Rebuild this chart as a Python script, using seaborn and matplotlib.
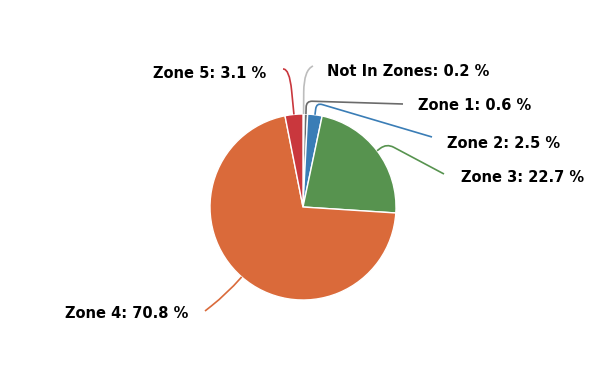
import numpy as np
import matplotlib
matplotlib.use("Agg")
import matplotlib.pyplot as plt
from matplotlib.path import Path
from matplotlib.patches import PathPatch
import seaborn as sns

categories = ["Not In Zones", "Zone 1", "Zone 2", "Zone 3", "Zone 4", "Zone 5"]
values = [0.2, 0.6, 2.5, 22.7, 70.8, 3.1]
colors = ["#bdbdbd", "#6b6b6b", "#3a7db6", "#57934f", "#da6a3a", "#c9373d"]

sns.set_theme(style="white")
plt.rcParams['font.family'] = ['DejaVu Sans']

W, H = 616, 366
CX, CY, R = 303, 207, 93  # pie centre/radius in pixels (layout)

fig = plt.figure(figsize=(W / 100, H / 100), dpi=100)
ax = fig.add_axes([0, 0, 1, 1])
ax.pie(values, colors=colors, startangle=90, counterclock=False, radius=1,
       wedgeprops=dict(edgecolor="white", linewidth=1.0))
ax.set_xlim(-CX / R, (W - CX) / R)
ax.set_ylim(-(H - CY) / R, CY / R)
ax.set_aspect("equal")
ax.axis("off")

def px(p):
    return ((p[0] - CX) / R, (CY - p[1]) / R)

# layout of the labels: (knee extension px, end point px, corner radius px, text x, text y)
layout = [
    (44, (313, 66), 22, 327, 72),
    (13, (403, 104), 6, 418, 106),
    (12, (432, 137), 6, 447, 143),
    (12, (444, 174), 8, 461, 177),
    (22, (205, 311), 20, 65, 313),
    (46, (283, 69), 22, 153, 73),
]

total = sum(values)
cum = 0.0
for cat, val, col, (ext, end, rad, tx, ty) in zip(categories, values, colors, layout):
    mid = (cum + val / 2) / total * 360.0
    cum += val
    th = np.deg2rad(mid)
    d = np.array([np.sin(th), -np.cos(th)])
    A = np.array([CX, CY]) + d * R
    K = A + d * ext
    E = np.array(end, dtype=float)
    ke = E - K
    L2 = np.linalg.norm(ke)
    ke_u = ke / L2
    r1 = min(rad, ext)
    r2 = min(rad, L2)
    p1 = K - d * r1
    p2 = K + ke_u * r2
    verts = [px(A), px(p1), px(K), px(p2), px(E)]
    codes = [Path.MOVETO, Path.LINETO, Path.CURVE3, Path.CURVE3, Path.LINETO]
    ax.add_patch(PathPatch(Path(verts, codes), fill=False, edgecolor=col, lw=1.2))
    ax.text(*px((tx, ty)), f"{cat}: {val} %", ha="left", va="center",
            fontsize=10.5, fontweight="bold", color="black")

fig.savefig("out.png", dpi=100)
